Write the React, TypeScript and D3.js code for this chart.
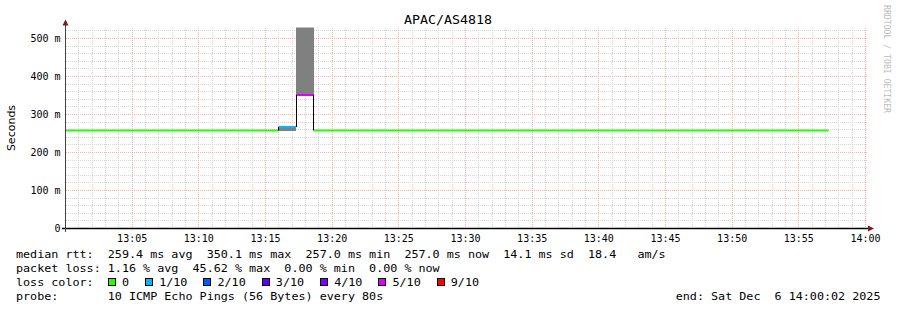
import React from "react";
import * as d3 from "d3";

// ---------------- data ----------------
const TITLE = "APAC/AS4818";
const Y_LABEL = "Seconds";
const WATERMARK = "RRDTOOL / TOBI OETIKER";
const Y_TICK_VALUES = [0, 100, 200, 300, 400, 500];
const Y_TICK_LABELS = ["0", "100 m", "200 m", "300 m", "400 m", "500 m"];
const X_TICK_TIMES = ["13:05", "13:10", "13:15", "13:20", "13:25", "13:30", "13:35", "13:40", "13:45", "13:50", "13:55", "14:00"];
const DOMAIN_TIMES = ["13:00:00", "14:00:00"];
// step boundaries (80 s steps); segment i spans boundary i .. i+1
const STEP_BOUNDARIES = ["13:00:00", "13:15:58", "13:17:18", "13:18:38", "13:57:14"];
const MEDIAN_MS = [257.9, 267.1, 351.6, 257.9];
const LOSS_PINGS = [0, 1, 5, 0];
const SMOKE_LOW_MS = [257.9, 256.6, 351.6, 257.9];
const SMOKE_HIGH_MS = [257.9, 264.5, 560, 257.9];
const LOSS_KEYS = [0, 1, 2, 3, 4, 5, 9];
const LOSS_LABELS = ["0", "1/10", "2/10", "3/10", "4/10", "5/10", "9/10"];
const LOSS_COLORS = ["#26ff00", "#00b8ff", "#0059ff", "#5e00ff", "#7e00ff", "#dd00ff", "#ff0000"];
const LEGEND_LINES = [
  "median rtt:  259.4 ms avg  350.1 ms max  257.0 ms min  257.0 ms now  14.1 ms sd  18.4   am/s",
  "packet loss: 1.16 % avg  45.62 % max  0.00 % min  0.00 % now",
  "loss color:",
  "probe:       10 ICMP Echo Pings (56 Bytes) every 80s",
];
const END_TEXT = "end: Sat Dec  6 14:00:02 2025";

// ---------------- layout ----------------
const W = 897;
const H = 310;
const MONO = "'DejaVu Sans Mono', monospace";
const SANS = "'DejaVu Sans', sans-serif";
const LEG_ADV = 7.07;
const LEG_SIZE = 10.5;
const LEG_X = 16;
const LEG_BASE = [258, 272, 286, 300];
const MINOR = "#d6d6d6";
const MAJOR = "#f7b0b0";

function Txt(props: {
  x: number; y: number; text: string; size: number; adv?: number;
  anchor?: string; fill?: string; family?: string;
}) {
  const { x, y, text, size, adv, anchor = "start", fill = "#000", family = MONO } = props;
  const sx = adv ? adv / (0.602 * size) : 1;
  return (
    <text
      transform={`translate(${x},${y}) scale(${sx},1)`}
      fontFamily={family}
      fontSize={size}
      textAnchor={anchor}
      fill={fill}
      style={{ whiteSpace: "pre" }}
      xmlSpace="preserve"
    >
      {text}
    </text>
  );
}

export default function App() {
  const parse = d3.timeParse("%H:%M:%S");
  const t = (s: string) => parse(s.length === 5 ? s + ":00" : s) as Date;

  const x = d3.scaleTime().domain([t(DOMAIN_TIMES[0]), t(DOMAIN_TIMES[1])]).range([65.5, 865.5]);
  const y = d3.scaleLinear().domain([0, 500]).range([228.5, 38.5]);
  const plotTop = 27.5;
  const plotBottom = 228.5;
  const plotLeft = 65.5;
  const plotRight = 865.5;
  const yMax = y.invert(plotTop);

  const minutes = x.ticks(d3.timeMinute.every(1) as any);
  const hVals = d3.range(20, yMax, 20);

  const bounds = STEP_BOUNDARIES.map(t);
  const segs = MEDIAN_MS.map((m, i) => ({
    t0: bounds[i],
    t1: bounds[i + 1],
    med: m,
    lo: SMOKE_LOW_MS[i],
    hi: SMOKE_HIGH_MS[i],
    color: LOSS_COLORS[LOSS_KEYS.indexOf(LOSS_PINGS[i])],
  }));

  const area = d3
    .area<[Date, number, number]>()
    .x((d) => x(d[0]))
    .y0((d) => y(d[1]))
    .y1((d) => y(d[2]));
  const line = d3
    .line<[Date, number]>()
    .x((d) => x(d[0]))
    .y((d) => y(d[1]));

  // loss legend positions
  let bx = LEG_X + 13 * LEG_ADV;
  const lossItems = LOSS_LABELS.map((lab, i) => {
    const item = { x: bx, label: lab, color: LOSS_COLORS[i] };
    bx += (2 + lab.length + 2.25) * LEG_ADV;
    return item;
  });

  const px = (d: Date) => Math.floor(x(d)) + 0.5;
  const py = (v: number) => Math.floor(y(v)) + 0.5;

  return (
    <svg
      width={W}
      height={H}
      style={{ position: "absolute", left: 0, top: 0, background: "#fff" }}
    >
      <rect x={0} y={0} width={W} height={H} fill="#fff" />
      <defs>
        <clipPath id="plot">
          <rect x={plotLeft} y={plotTop} width={plotRight - plotLeft} height={plotBottom - plotTop} />
        </clipPath>
      </defs>

      {/* grid */}
      <g shapeRendering="crispEdges">
        {hVals.filter((v) => v % 100 !== 0).map((v) => (
          <line key={"h" + v} x1={plotLeft} x2={868} y1={py(v)} y2={py(v)} stroke={MINOR} strokeDasharray="1,1" />
        ))}
        {minutes
          .filter((m) => +m > +x.domain()[0] && m.getMinutes() % 5 !== 0)
          .map((m) => (
            <line key={"v" + +m} x1={px(m)} x2={px(m)} y1={plotTop} y2={plotBottom} stroke={MINOR} strokeDasharray="1,1" />
          ))}
        {hVals.filter((v) => v % 100 === 0).map((v) => (
          <line key={"H" + v} x1={plotLeft} x2={868} y1={py(v)} y2={py(v)} stroke={MAJOR} strokeDasharray="1,1" />
        ))}
        {minutes
          .filter((m) => +m > +x.domain()[0] && m.getMinutes() % 5 === 0)
          .map((m) => (
            <line key={"V" + +m} x1={px(m)} x2={px(m)} y1={plotTop} y2={plotBottom} stroke={MAJOR} strokeDasharray="1,1" />
          ))}
      </g>

      {/* smoke & median */}
      <g clipPath="url(#plot)">
        {segs.map((s, i) =>
          s.hi > s.lo ? (
            <path
              key={"s" + i}
              d={area([[s.t0, s.lo, s.hi], [s.t1, s.lo, s.hi]]) as string}
              fill="#808080"
              shapeRendering="crispEdges"
            />
          ) : null
        )}
        {segs.map((s, i) => (
          <path
            key={"m" + i}
            d={line([[s.t0, s.med], [s.t1, s.med]]) as string}
            stroke={s.color}
            strokeWidth={2}
            fill="none"
          />
        ))}
        {segs.slice(1).map((s, i) => (
          <line
            key={"c" + i}
            x1={px(s.t0)}
            x2={px(s.t0)}
            y1={y(segs[i].med)}
            y2={y(s.med)}
            stroke="#000"
            strokeWidth={1}
          />
        ))}
      </g>

      {/* axes */}
      <line x1={62} x2={868} y1={228.5} y2={228.5} stroke="#000" strokeWidth={1.3} />
      <polygon points="868,225.5 874,228.5 868,231.5" fill="#7f1a1a" />
      <line x1={65.5} x2={65.5} y1={232} y2={25} stroke="#444" strokeWidth={1} shapeRendering="crispEdges" />
      <polygon points="62.5,25.5 65.5,19.5 68.5,25.5" fill="#7f1a1a" />

      {/* y labels */}
      {Y_TICK_VALUES.map((v, i) => (
        <Txt key={"yl" + v} x={60.5} y={y(v) + 3.5} text={Y_TICK_LABELS[i]} size={10} anchor="end" />
      ))}
      {/* x labels */}
      {X_TICK_TIMES.map((s) => (
        <Txt key={"xl" + s} x={x(t(s))} y={242} text={s} size={10} anchor="middle" />
      ))}

      {/* title */}
      <Txt x={448} y={24} text={TITLE} size={12} adv={8} anchor="middle" />

      {/* y axis title */}
      <text
        transform="translate(14.5,128) rotate(-90)"
        fontFamily={SANS}
        fontSize={11}
        textAnchor="middle"
        fill="#000"
      >
        {Y_LABEL}
      </text>

      {/* watermark */}
      <text
        transform="translate(884,5) rotate(90)"
        fontFamily={MONO}
        fontSize={9.5}
        fill="#bcbcbc"
        textLength={108}
        lengthAdjust="spacingAndGlyphs"
      >
        {WATERMARK}
      </text>

      {/* legend */}
      {LEGEND_LINES.map((l, i) => (
        <Txt key={"lg" + i} x={LEG_X} y={LEG_BASE[i]} text={l} size={LEG_SIZE} adv={LEG_ADV} />
      ))}
      {lossItems.map((it) => (
        <g key={"li" + it.label}>
          <rect x={Math.round(it.x) + 0.5} y={278.5} width={7} height={7} fill={it.color} stroke="#000" strokeWidth={1} shapeRendering="crispEdges" />
          <Txt x={it.x + 2 * LEG_ADV} y={LEG_BASE[2]} text={it.label} size={LEG_SIZE} adv={LEG_ADV} />
        </g>
      ))}
      <Txt x={880.5} y={LEG_BASE[3]} text={END_TEXT} size={LEG_SIZE} adv={LEG_ADV} anchor="end" />
    </svg>
  );
}
